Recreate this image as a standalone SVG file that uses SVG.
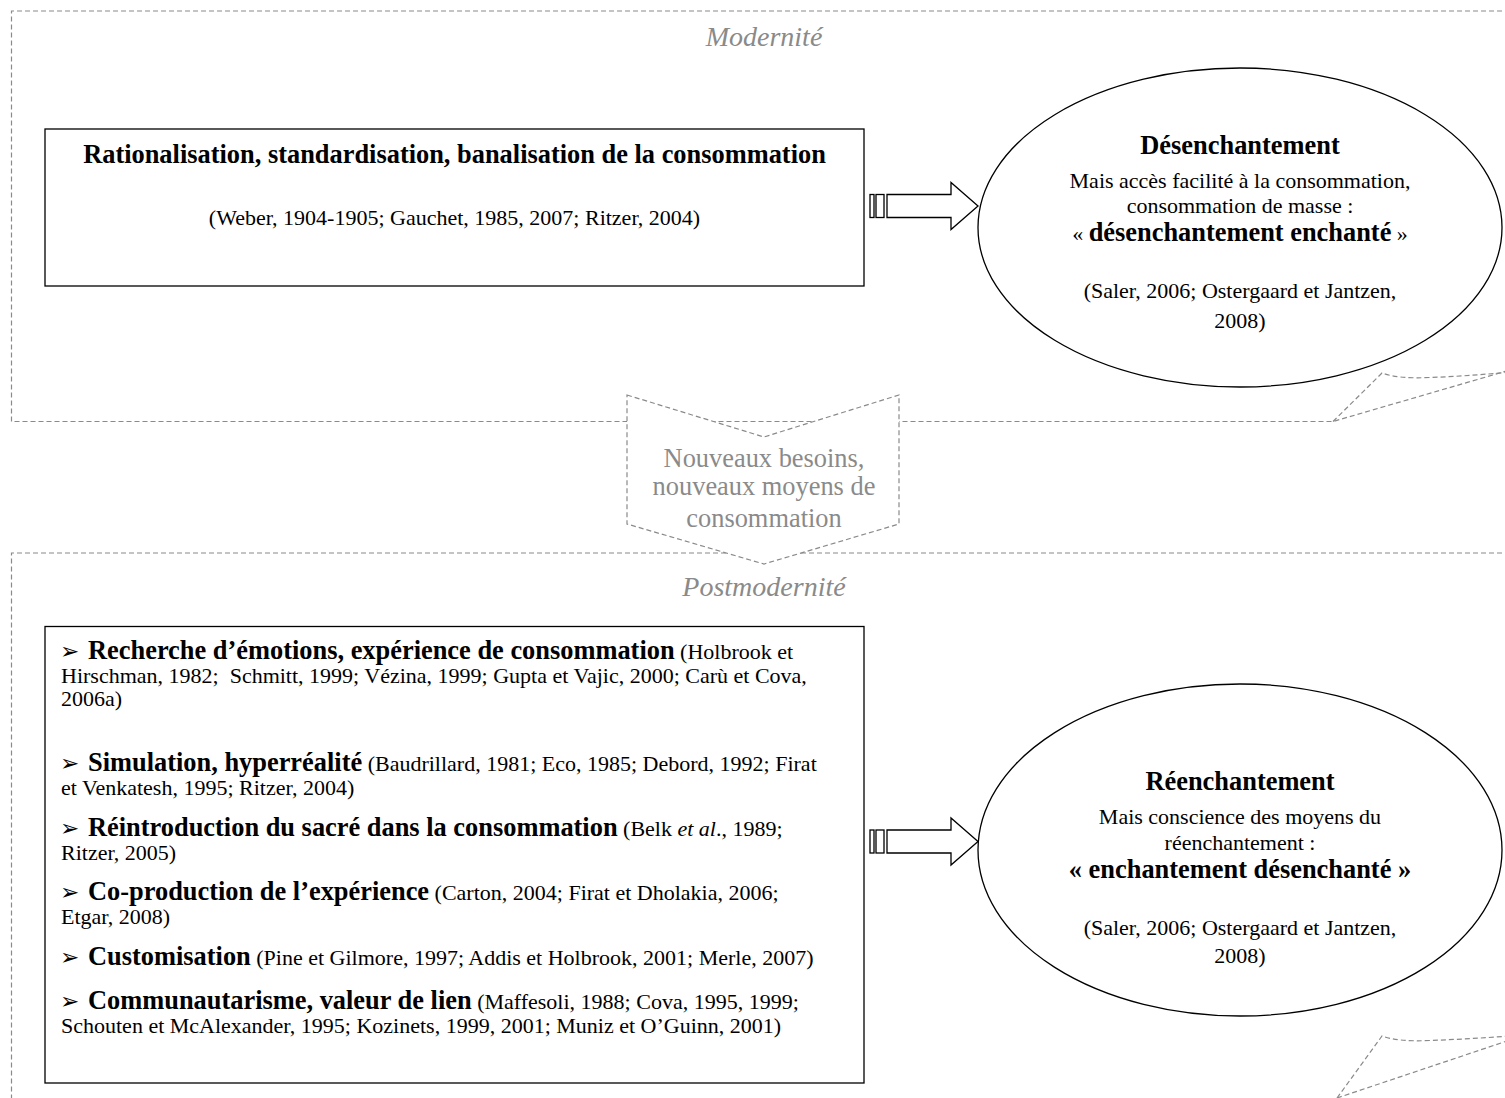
<svg xmlns="http://www.w3.org/2000/svg" width="1505" height="1098" viewBox="0 0 1505 1098">
<style>
.dash{fill:none;stroke:#8a8a8a;stroke-width:1.2;stroke-dasharray:5 3}
.dashw{fill:#fff;stroke:#8a8a8a;stroke-width:1.2;stroke-dasharray:5 3}
.box{fill:#fff;stroke:#000;stroke-width:1.3}
.t{font-family:"Liberation Serif","Times New Roman",serif;fill:#000}
.r{font-size:22px}
.b{font-size:26.4px;font-weight:bold}
.sec{font-family:"Liberation Serif","Times New Roman",serif;font-size:28px;font-style:italic;fill:#8a8a8a}
.grey{font-family:"Liberation Serif","Times New Roman",serif;font-size:26.4px;fill:#8a8a8a}
.ar{font-family:"DejaVu Sans",sans-serif;font-size:23px;fill:#000}
.nb{font-weight:normal;font-size:22px}
</style>
<rect width="1505" height="1098" fill="#fff"/>

<g id="modernite">
<path class="dash" d="M1510 11 H11.5 V421.5 H1333 L1510 370"/>
<path class="dash" d="M1333 421.5 L1382 373 Q1398 379 1430 377.5 Q1470 376 1510 372"/>
<text class="sec" x="764" y="46" text-anchor="middle">Modernité</text>
</g>

<g id="postmodernite">
<path class="dash" d="M1510 553 H11.5 V1100"/>
<path class="dash" d="M1337 1098 L1382 1036 Q1398 1042 1430 1040.5 Q1470 1039 1510 1036"/>
<path class="dash" d="M1337 1098 L1510 1040"/>
<text class="sec" x="764" y="596" text-anchor="middle">Postmodernité</text>
</g>

<g id="transition">
<path class="dashw" d="M627 395 L764 437 L899 395 V524 L764 564 L627 524 Z"/>
<text class="grey" x="764" y="467" text-anchor="middle">Nouveaux besoins,</text>
<text class="grey" x="764" y="495" text-anchor="middle">nouveaux moyens de</text>
<text class="grey" x="764" y="527" text-anchor="middle">consommation</text>
</g>

<g id="rationalisation">
<rect class="box" x="45" y="129" width="819" height="157"/>
<text class="t b" x="454.5" y="163" text-anchor="middle">Rationalisation, standardisation, banalisation de la consommation</text>
<text class="t r" x="454.5" y="225" text-anchor="middle">(Weber, 1904-1905; Gauchet, 1985, 2007; Ritzer, 2004)</text>
</g>

<g id="desenchantement">
<ellipse class="box" cx="1240" cy="227.5" rx="262" ry="159.5"/>
<text class="t b" x="1240" y="154" text-anchor="middle">Désenchantement</text>
<text class="t r" x="1240" y="188" text-anchor="middle">Mais accès facilité à la consommation,</text>
<text class="t r" x="1240" y="213" text-anchor="middle">consommation de masse :</text>
<text class="t b" x="1240" y="241" text-anchor="middle"><tspan class="nb">« </tspan>désenchantement enchanté<tspan class="nb"> »</tspan></text>
<text class="t r" x="1240" y="298" text-anchor="middle">(Saler, 2006; Ostergaard et Jantzen,</text>
<text class="t r" x="1240" y="328" text-anchor="middle">2008)</text>
</g>

<g id="postmodern-list">
<rect class="box" x="45" y="626.5" width="819" height="456.5"/>
<text class="ar" x="60" y="659">➢</text>
<text class="t b" x="88" y="659">Recherche d’émotions, expérience de consommation<tspan class="nb"> (Holbrook et</tspan></text>
<text class="t r" x="61" y="683" xml:space="preserve">Hirschman, 1982;  Schmitt, 1999; Vézina, 1999; Gupta et Vajic, 2000; Carù et Cova,</text>
<text class="t r" x="61" y="706">2006a)</text>
<text class="ar" x="60" y="771">➢</text>
<text class="t b" x="88" y="771">Simulation, hyperréalité<tspan class="nb"> (Baudrillard, 1981; Eco, 1985; Debord, 1992; Firat</tspan></text>
<text class="t r" x="61" y="795">et Venkatesh, 1995; Ritzer, 2004)</text>
<text class="ar" x="60" y="836">➢</text>
<text class="t b" x="88" y="836">Réintroduction du sacré dans la consommation<tspan class="nb"> (Belk </tspan><tspan class="nb" font-style="italic">et al</tspan><tspan class="nb">., 1989;</tspan></text>
<text class="t r" x="61" y="860">Ritzer, 2005)</text>
<text class="ar" x="60" y="900">➢</text>
<text class="t b" x="88" y="900">Co-production de l’expérience<tspan class="nb"> (Carton, 2004; Firat et Dholakia, 2006;</tspan></text>
<text class="t r" x="61" y="924">Etgar, 2008)</text>
<text class="ar" x="60" y="965">➢</text>
<text class="t b" x="88" y="965">Customisation<tspan class="nb"> (Pine et Gilmore, 1997; Addis et Holbrook, 2001; Merle, 2007)</tspan></text>
<text class="ar" x="60" y="1009">➢</text>
<text class="t b" x="88" y="1009">Communautarisme, valeur de lien<tspan class="nb"> (Maffesoli, 1988; Cova, 1995, 1999;</tspan></text>
<text class="t r" x="61" y="1033">Schouten et McAlexander, 1995; Kozinets, 1999, 2001; Muniz et O’Guinn, 2001)</text>
</g>

<g id="reenchantement">
<ellipse class="box" cx="1240" cy="850" rx="262" ry="166"/>
<text class="t b" x="1240" y="790" text-anchor="middle">Réenchantement</text>
<text class="t r" x="1240" y="824" text-anchor="middle">Mais conscience des moyens du</text>
<text class="t r" x="1240" y="850" text-anchor="middle">réenchantement :</text>
<text class="t b" x="1240" y="878" text-anchor="middle">« enchantement désenchanté »</text>
<text class="t r" x="1240" y="935" text-anchor="middle">(Saler, 2006; Ostergaard et Jantzen,</text>
<text class="t r" x="1240" y="963" text-anchor="middle">2008)</text>
</g>

<g id="connectors">
<g fill="#fff" stroke="#000" stroke-width="1.3">
<rect x="870" y="194.5" width="4" height="23"/>
<rect x="876" y="194.5" width="8" height="23"/>
<path d="M887 194.5 H951 V182.5 L978 206 L951 229.5 V217.5 H887 Z"/>
<rect x="870" y="830" width="4" height="23"/>
<rect x="876" y="830" width="8" height="23"/>
<path d="M887 830 H951 V818 L978 841.5 L951 865 V853 H887 Z"/>
</g>
</g>
</svg>
